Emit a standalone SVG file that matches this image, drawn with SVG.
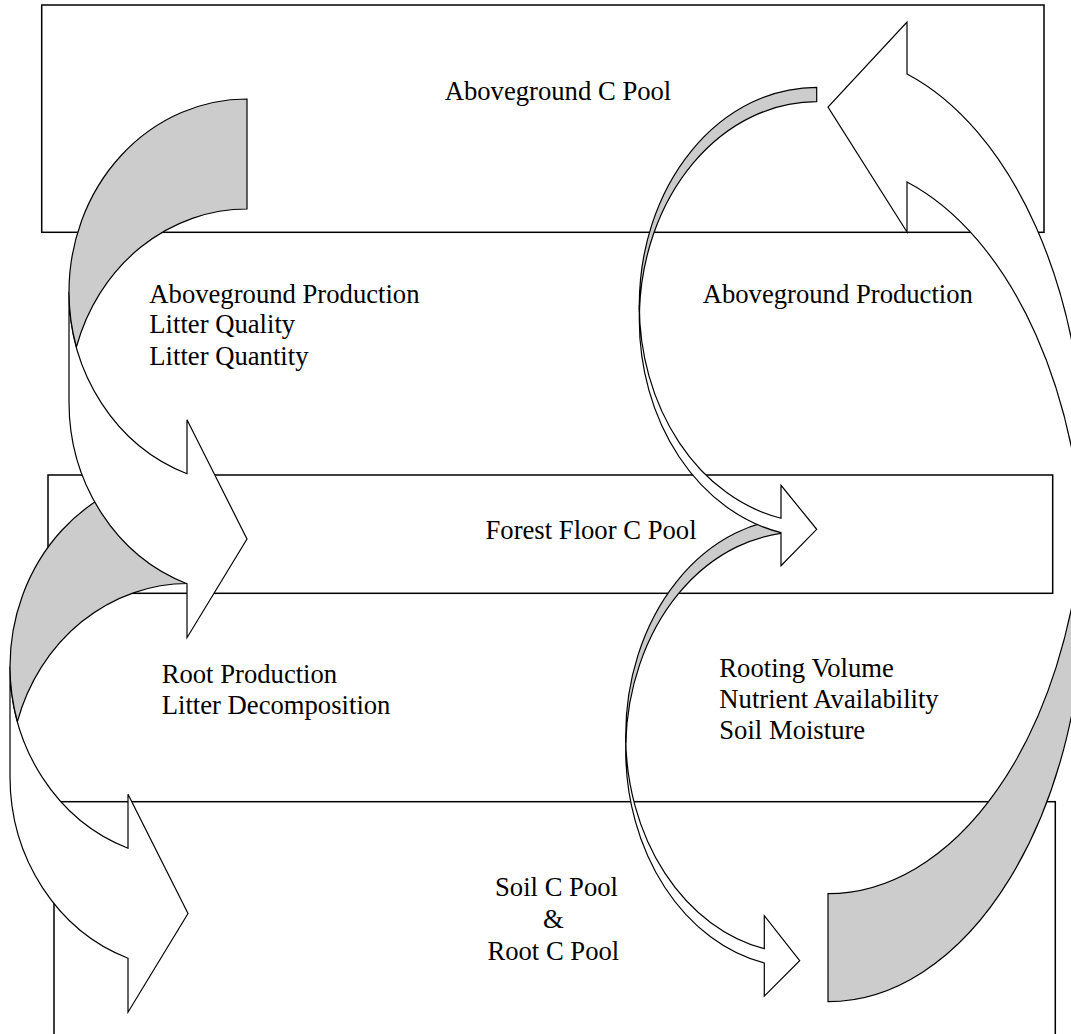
<svg xmlns="http://www.w3.org/2000/svg" width="1071" height="1034" viewBox="0 0 1071 1034">
<style>
.box{fill:#ffffff;stroke:#000;stroke-width:1.5}
.front{fill:#ffffff;stroke:#000;stroke-width:1.2;stroke-linejoin:miter}
.back{fill:#cccccc;stroke:#000;stroke-width:1.2;stroke-linejoin:miter}
text{font-family:"Liberation Serif","Times New Roman",serif;font-size:26.67px;fill:#000}
</style>
<rect x="0" y="0" width="1071" height="1034" fill="#ffffff"/>
<g id="aboveground-pool">
<rect class="box" x="41.7" y="5" width="1002.3" height="227.3"/>
<text x="444.7" y="99.5">Aboveground C Pool</text>
</g>
<g id="forest-floor-pool">
<rect class="box" x="48" y="475" width="1004.7" height="118.3"/>
<text x="485.5" y="539.3">Forest Floor C Pool</text>
</g>
<g id="soil-root-pool">
<rect class="box" x="54" y="801.7" width="1001.3" height="260"/>
<text x="495" y="896">Soil C Pool</text>
<text x="543" y="928">&amp;</text>
<text x="487.4" y="959.5">Root C Pool</text>
</g>
<g id="connectors">
<g id="arrow-forest-to-soil" transform="translate(-59,374.5)">
<path class="front" d="M69,292 A178,193 0 0 0 187,473.7 L187,419.7 L247,539 L187,637.7 L187,583.7 A178,193 0 0 1 69,402 Z"/>
<path class="back" d="M247,99 A178,193 0 0 0 69,292 A178,193 0 0 0 76.4,347 A178,193 0 0 1 247,209 Z"/>
</g>
<g id="arrow-above-to-forest">
<path class="front" d="M69,292 A178,193 0 0 0 187,473.7 L187,419.7 L247,539 L187,637.7 L187,583.7 A178,193 0 0 1 69,402 Z"/>
<path class="back" d="M247,99 A178,193 0 0 0 69,292 A178,193 0 0 0 76.4,347 A178,193 0 0 1 247,209 Z"/>
</g>
<g id="arrow-forest-to-soil-right">
<path class="front" d="M625.7,735.5 A174,217.7 0 0 0 764.3,948.65 L764.3,915.65 L799.7,960.7 L764.3,996.05 L764.3,963.05 A174,217.7 0 0 1 625.7,749.9 Z"/>
<path class="back" d="M799.7,517.8 A174,217.7 0 0 0 625.7,735.5 A174,217.7 0 0 0 625.8,742.7 A174,217.7 0 0 1 799.7,532.2 Z"/>
</g>
<g id="arrow-above-to-forest-right">
<path class="front" d="M639.3,305 A177.4,217.7 0 0 0 781,518.25 L781,485.3 L816.7,529.3 L781,565.7 L781,532.65 A177.4,217.7 0 0 1 639.3,319.4 Z"/>
<path class="back" d="M816.7,87.3 A177.4,217.7 0 0 0 639.3,305 A177.4,217.7 0 0 0 639.4,312.2 A177.4,217.7 0 0 1 816.7,101.7 Z"/>
</g>
<g id="arrow-soil-to-above">
<path class="front" d="M1085,581.7 A257,420 0 0 0 907,182.03 L907,232 L828,107 L907,22 L907,74.03 A257,420 0 0 1 1085,473.7 Z"/>
<path class="back" d="M828,1001.7 A257,420 0 0 0 1085,581.7 A257,420 0 0 0 1082.9,527.7 A257,420 0 0 1 828,893.7 Z"/>
</g>
</g>
<g id="labels">
<g id="label-left-upper">
<text x="149.3" y="302.5">Aboveground Production</text>
<text x="149.3" y="333.2">Litter Quality</text>
<text x="149.3" y="364.5">Litter Quantity</text>
</g>
<g id="label-right-upper">
<text x="702.7" y="302.5">Aboveground Production</text>
</g>
<g id="label-left-lower">
<text x="161.7" y="683.3">Root Production</text>
<text x="161.7" y="714">Litter Decomposition</text>
</g>
<g id="label-right-lower">
<text x="719.3" y="677.3">Rooting Volume</text>
<text x="719.3" y="708">Nutrient Availability</text>
<text x="719.3" y="738.7">Soil Moisture</text>
</g>
</g>
</svg>
